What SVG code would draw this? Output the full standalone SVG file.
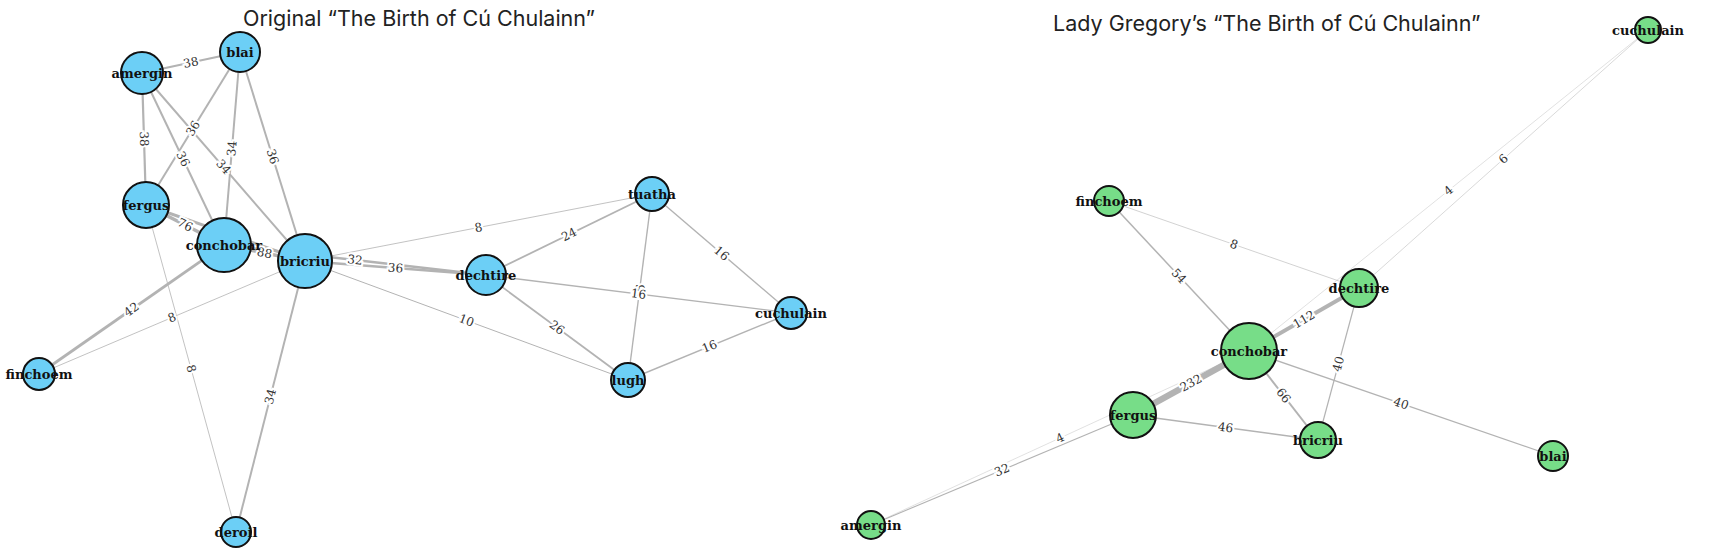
<svg xmlns="http://www.w3.org/2000/svg" width="1709" height="552" viewBox="0 0 1709 552">
<style>
.e{stroke:#b3b3b3;fill:none}
.el{font-family:"DejaVu Serif",serif;font-size:12px;fill:#333;stroke:#fff;stroke-width:4;paint-order:stroke;text-anchor:middle;dominant-baseline:central}
.nb{fill:#6ccff6;stroke:#111;stroke-width:2}
.ng{fill:#77dd88;stroke:#111;stroke-width:2}
.nl{font-family:"DejaVu Serif",serif;font-weight:bold;font-size:13px;text-anchor:middle;fill:#111}
.t{font-family:Inter,"Open Sans",sans-serif;font-size:21.5px;fill:#222}
</style>
<rect width="1709" height="552" fill="#fff"/>
<text class="t" x="243" y="26">Original “The Birth of Cú Chulainn”</text>
<text class="t" x="1053" y="31">Lady Gregory’s “The Birth of Cú Chulainn”</text>
<g id="connectors">
<line class="e" x1="142" y1="73" x2="240" y2="52" stroke-width="2.2"/>
<line class="e" x1="142" y1="73" x2="146" y2="205" stroke-width="2.2"/>
<line class="e" x1="142" y1="73" x2="224" y2="245" stroke-width="2"/>
<line class="e" x1="142" y1="73" x2="305" y2="261" stroke-width="2"/>
<line class="e" x1="240" y1="52" x2="146" y2="205" stroke-width="2"/>
<line class="e" x1="240" y1="52" x2="224" y2="245" stroke-width="2"/>
<line class="e" x1="240" y1="52" x2="305" y2="261" stroke-width="2"/>
<line class="e" x1="146" y1="205" x2="224" y2="245" stroke-width="3.5"/>
<line class="e" x1="146" y1="205" x2="305" y2="261" stroke-width="3"/>
<line class="e" x1="224" y1="245" x2="305" y2="261" stroke-width="3.5"/>
<line class="e" x1="224" y1="245" x2="486" y2="275" stroke-width="2.5"/>
<line class="e" x1="305" y1="261" x2="486" y2="275" stroke-width="2.5"/>
<line class="e" x1="305" y1="261" x2="652" y2="194" stroke-width="0.8" stroke="#c8c8c8"/>
<line class="e" x1="305" y1="261" x2="628" y2="380" stroke-width="1" stroke="#c4c4c4"/>
<line class="e" x1="305" y1="261" x2="39" y2="374" stroke-width="0.8" stroke="#c8c8c8"/>
<line class="e" x1="305" y1="261" x2="236" y2="532" stroke-width="2"/>
<line class="e" x1="224" y1="245" x2="39" y2="374" stroke-width="2.8"/>
<line class="e" x1="146" y1="205" x2="236" y2="532" stroke-width="0.8" stroke="#c8c8c8"/>
<line class="e" x1="486" y1="275" x2="652" y2="194" stroke-width="1.8"/>
<line class="e" x1="486" y1="275" x2="791" y2="313" stroke-width="1.4"/>
<line class="e" x1="486" y1="275" x2="628" y2="380" stroke-width="1.8"/>
<line class="e" x1="652" y1="194" x2="628" y2="380" stroke-width="1.4"/>
<line class="e" x1="652" y1="194" x2="791" y2="313" stroke-width="1.4"/>
<line class="e" x1="628" y1="380" x2="791" y2="313" stroke-width="1.4"/>
<line class="e" x1="1648" y1="30" x2="1249" y2="351" stroke-width="0.4" stroke="#dedede"/>
<line class="e" x1="1648" y1="30" x2="1359" y2="288" stroke-width="0.5" stroke="#dadada"/>
<line class="e" x1="1109" y1="201" x2="1249" y2="351" stroke-width="1.5"/>
<line class="e" x1="1109" y1="201" x2="1359" y2="288" stroke-width="0.6" stroke="#d0d0d0"/>
<line class="e" x1="1249" y1="351" x2="1359" y2="288" stroke-width="4"/>
<line class="e" x1="1249" y1="351" x2="1133" y2="415" stroke-width="6.5"/>
<line class="e" x1="1249" y1="351" x2="1318" y2="440" stroke-width="2"/>
<line class="e" x1="1249" y1="351" x2="1553" y2="456" stroke-width="1.2"/>
<line class="e" x1="1359" y1="288" x2="1318" y2="440" stroke-width="1.2"/>
<line class="e" x1="1133" y1="415" x2="1318" y2="440" stroke-width="1.5"/>
<line class="e" x1="1133" y1="415" x2="871" y2="525" stroke-width="1.1"/>
<line class="e" x1="1249" y1="351" x2="871" y2="525" stroke-width="0.4" stroke="#dedede"/>
<text class="el" transform="translate(191,62.5) rotate(-12.1)">38</text>
<text class="el" transform="translate(144,139) rotate(88.3)">38</text>
<text class="el" transform="translate(183,159) rotate(64.5)">36</text>
<text class="el" transform="translate(223.5,167) rotate(49.1)">34</text>
<text class="el" transform="translate(193,128.5) rotate(-58.4)">36</text>
<text class="el" transform="translate(232,148.5) rotate(-85.3)">34</text>
<text class="el" transform="translate(272.5,156.5) rotate(72.7)">36</text>
<text class="el" transform="translate(185,225) rotate(27.1)">76</text>
<text class="el" transform="translate(264.5,253) rotate(11.2)">88</text>
<text class="el" transform="translate(355,260) rotate(6.5)">32</text>
<text class="el" transform="translate(395.5,268) rotate(4.4)">36</text>
<text class="el" transform="translate(478.5,227.5) rotate(-10.9)">8</text>
<text class="el" transform="translate(466.5,320.5) rotate(20.2)">10</text>
<text class="el" transform="translate(172,317.5) rotate(-23)">8</text>
<text class="el" transform="translate(270.5,396.5) rotate(-75.7)">34</text>
<text class="el" transform="translate(131.5,309.5) rotate(-34.9)">42</text>
<text class="el" transform="translate(191,368.5) rotate(74.6)">8</text>
<text class="el" transform="translate(569,234.5) rotate(-26)">24</text>
<text class="el" transform="translate(557,327.5) rotate(36.5)">26</text>
<text class="el" transform="translate(640,292) rotate(-82.6)">16</text>
<text class="el" transform="translate(638.5,294) rotate(7.1)">16</text>
<text class="el" transform="translate(721.5,253.5) rotate(40.6)">16</text>
<text class="el" transform="translate(709.5,346.5) rotate(-22.3)">16</text>
<text class="el" transform="translate(1448.5,190.5) rotate(-38.8)">4</text>
<text class="el" transform="translate(1503.5,159) rotate(-41.8)">6</text>
<text class="el" transform="translate(1179,276) rotate(47)">54</text>
<text class="el" transform="translate(1234,244.5) rotate(19.2)">8</text>
<text class="el" transform="translate(1304,319.5) rotate(-29.8)">112</text>
<text class="el" transform="translate(1191,383) rotate(-28.9)">232</text>
<text class="el" transform="translate(1283.5,395.5) rotate(52.2)">66</text>
<text class="el" transform="translate(1401,403.5) rotate(19.1)">40</text>
<text class="el" transform="translate(1338.5,364) rotate(-74.9)">40</text>
<text class="el" transform="translate(1225.5,427.5) rotate(7.7)">46</text>
<text class="el" transform="translate(1002,470) rotate(-22.8)">32</text>
<text class="el" transform="translate(1060,438) rotate(-24.7)">4</text>
</g>
<g id="node-l-amergin"><circle class="nb" cx="142" cy="73" r="21"/><text class="nl" x="142" y="77.5">amergin</text></g>
<g id="node-l-blai"><circle class="nb" cx="240" cy="52" r="20"/><text class="nl" x="240" y="56.5">blai</text></g>
<g id="node-l-fergus"><circle class="nb" cx="146" cy="205" r="23"/><text class="nl" x="146" y="209.5">fergus</text></g>
<g id="node-l-conchobar"><circle class="nb" cx="224" cy="245" r="27"/><text class="nl" x="224" y="249.5">conchobar</text></g>
<g id="node-l-bricriu"><circle class="nb" cx="305" cy="261" r="27"/><text class="nl" x="305" y="265.5">bricriu</text></g>
<g id="node-l-dechtire"><circle class="nb" cx="486" cy="275" r="20"/><text class="nl" x="486" y="279.5">dechtire</text></g>
<g id="node-l-tuatha"><circle class="nb" cx="652" cy="194" r="17"/><text class="nl" x="652" y="198.5">tuatha</text></g>
<g id="node-l-cuchulain"><circle class="nb" cx="791" cy="313" r="16"/><text class="nl" x="791" y="317.5">cuchulain</text></g>
<g id="node-l-lugh"><circle class="nb" cx="628" cy="380" r="17"/><text class="nl" x="628" y="384.5">lugh</text></g>
<g id="node-l-finchoem"><circle class="nb" cx="39" cy="374" r="16"/><text class="nl" x="39" y="378.5">finchoem</text></g>
<g id="node-l-deroil"><circle class="nb" cx="236" cy="532" r="15"/><text class="nl" x="236" y="536.5">deroil</text></g>
<g id="node-r-cuchulain"><circle class="ng" cx="1648" cy="30" r="13"/><text class="nl" x="1648" y="34.5">cuchulain</text></g>
<g id="node-r-finchoem"><circle class="ng" cx="1109" cy="201" r="15"/><text class="nl" x="1109" y="205.5">finchoem</text></g>
<g id="node-r-dechtire"><circle class="ng" cx="1359" cy="288" r="19"/><text class="nl" x="1359" y="292.5">dechtire</text></g>
<g id="node-r-conchobar"><circle class="ng" cx="1249" cy="351" r="28"/><text class="nl" x="1249" y="355.5">conchobar</text></g>
<g id="node-r-fergus"><circle class="ng" cx="1133" cy="415" r="23"/><text class="nl" x="1133" y="419.5">fergus</text></g>
<g id="node-r-bricriu"><circle class="ng" cx="1318" cy="440" r="18"/><text class="nl" x="1318" y="444.5">bricriu</text></g>
<g id="node-r-blai"><circle class="ng" cx="1553" cy="456" r="15"/><text class="nl" x="1553" y="460.5">blai</text></g>
<g id="node-r-amergin"><circle class="ng" cx="871" cy="525" r="14"/><text class="nl" x="871" y="529.5">amergin</text></g>
</svg>
